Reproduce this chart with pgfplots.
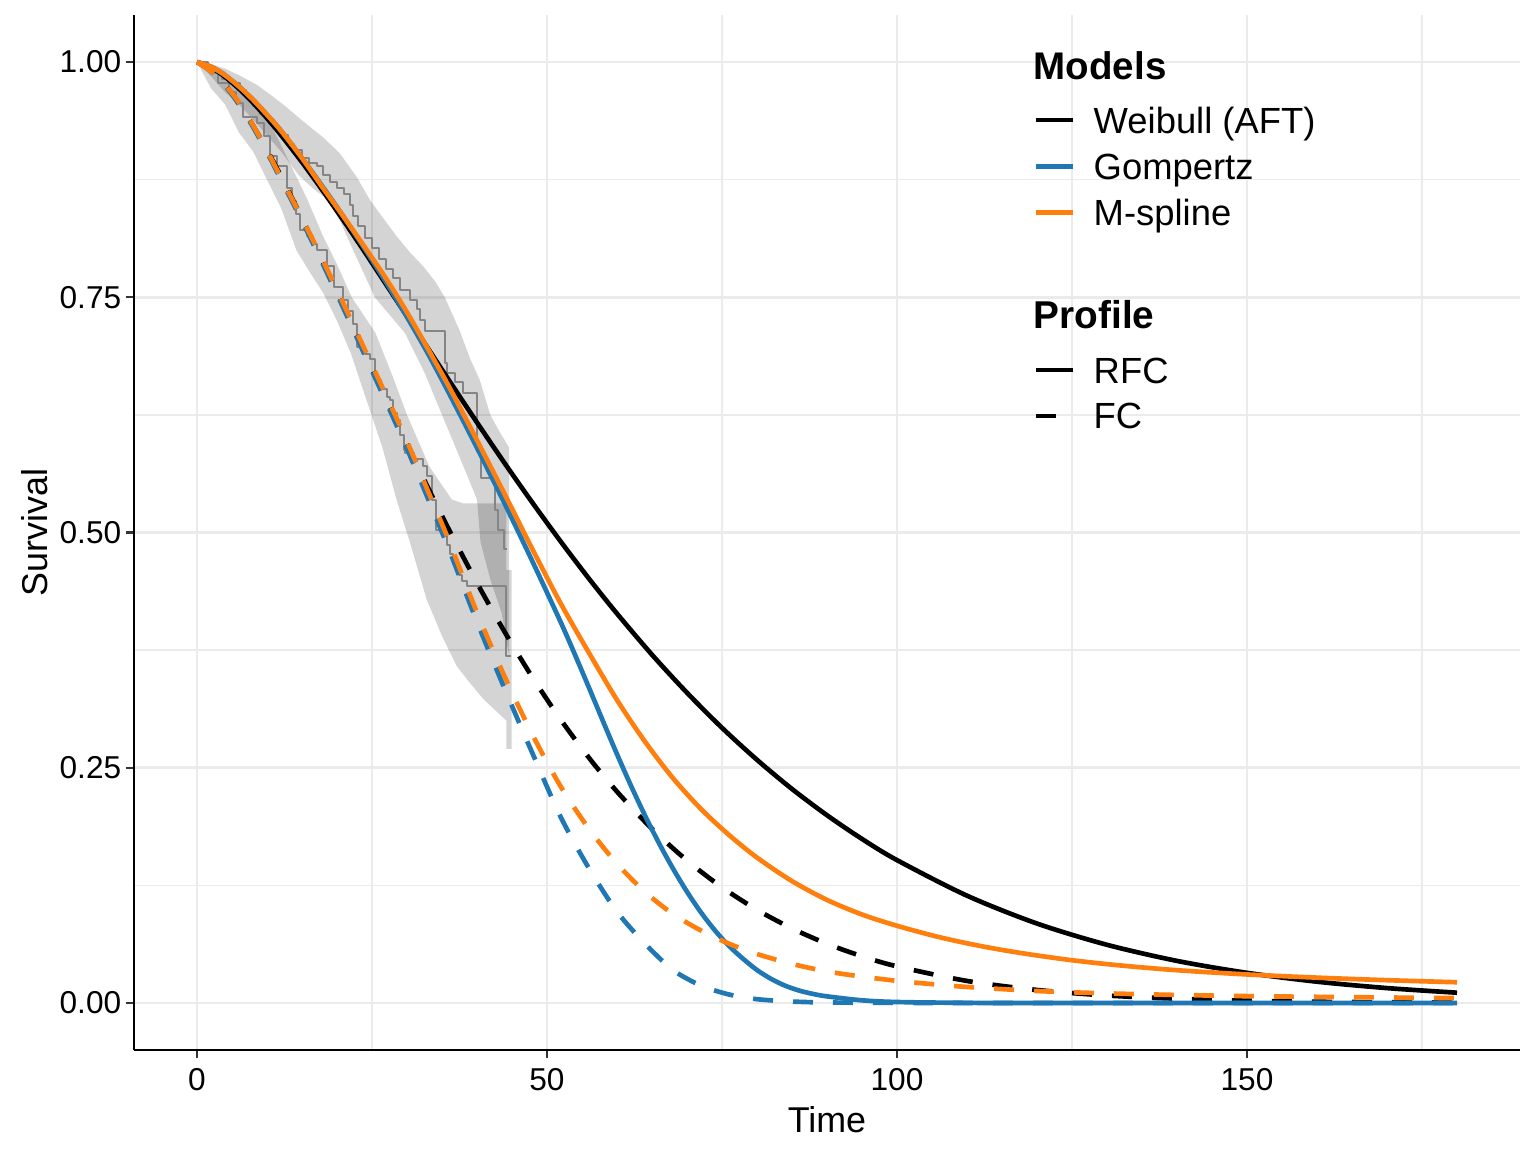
\documentclass[border=0pt]{standalone}
\usepackage{fontspec}
\setmainfont{Liberation Sans}
\usepackage{pgfplots}
\usepackage{pgfplotstable}
\pgfplotsset{compat=1.18}

\definecolor{tabblue}{HTML}{1F77B4}
\definecolor{taborange}{HTML}{FF7F0E}
\definecolor{gridgrey}{HTML}{EBEBEB}
\definecolor{kmgrey}{HTML}{858585}
\definecolor{tickgrey}{HTML}{333333}

% Weibull (AFT), RFC
\pgfplotstableread{
t S
0 1
2 0.9944
4 0.9843
6 0.9716
8 0.9568
10 0.9403
12 0.9224
15 0.8936
18 0.8629
21 0.8308
24 0.7977
27 0.7638
30 0.7298
33 0.6956
36 0.6617
40 0.6169
44 0.5731
48 0.5308
52 0.4900
56 0.4509
60 0.4138
65 0.3701
70 0.3297
75 0.2924
80 0.2584
85 0.2274
90 0.1995
95 0.1743
100 0.1518
110 0.1140
120 0.0844
130 0.0618
140 0.0447
150 0.0320
160 0.0226
170 0.0158
180 0.0109
}\wrfc
% Weibull (AFT), FC
\pgfplotstableread{
t S
0 1
2 0.9915
4 0.9759
6 0.9559
8 0.9326
10 0.9066
12 0.8786
15 0.8339
18 0.7870
21 0.7388
24 0.6900
27 0.6417
30 0.5941
33 0.5477
36 0.5030
40 0.4464
44 0.3937
48 0.3451
52 0.3007
56 0.2605
60 0.2246
65 0.1851
70 0.1514
75 0.1229
80 0.0990
85 0.0792
90 0.0629
95 0.0496
100 0.0389
110 0.0234
120 0.0138
130 0.0079
140 0.0045
150 0.0024
160 0.0013
170 0.0007
180 0.0004
}\wfc
% Gompertz, RFC
\pgfplotstableread{
t S
0 1
2 0.995
4 0.986
6 0.974
8 0.960
10 0.944
12 0.927
15 0.898
18 0.867
21 0.835
24 0.801
27 0.766
30 0.729
33 0.690
36 0.648
40 0.590
44 0.530
48 0.468
52 0.404
54 0.370
56 0.335
58 0.2994
60 0.2644
62 0.2308
64 0.1992
66 0.1698
68 0.1428
70 0.1182
72 0.0962
74 0.0770
76 0.0606
78 0.0470
80 0.0350
82 0.0256
84 0.0184
86 0.0132
88 0.0096
90 0.0070
95 0.0028
100 0.0010
110 0.0001
120 0
150 0
180 0
}\grfc
% Gompertz, FC
\pgfplotstableread{
t S
0 1
2 0.990
4 0.975
6 0.955
8 0.931
10 0.904
12 0.875
15 0.831
18 0.785
21 0.737
24 0.688
27 0.639
30 0.589
33 0.536
36 0.482
40 0.405
44 0.333
48 0.264
52 0.197
56 0.143
60 0.097
64 0.063
68 0.035
72 0.0185
76 0.009
80 0.004
85 0.0015
90 0.0005
100 0.0001
110 0
150 0
180 0
}\gfc
% M-spline, RFC
\pgfplotstableread{
t S
0 1
2 0.995
4 0.986
6 0.974
8 0.960
10 0.944
12 0.927
15 0.898
18 0.866
21 0.835
24 0.803
27 0.770
30 0.734
33 0.695
36 0.655
40 0.598
44 0.540
48 0.481
52 0.424
56 0.372
60 0.322
64 0.2777
68 0.2389
72 0.2061
76 0.1785
80 0.1545
85 0.1295
90 0.1095
95 0.0940
100 0.0820
106 0.0700
112 0.0604
118 0.0527
125 0.0454
132 0.0398
140 0.0348
150 0.0303
160 0.0269
170 0.0242
180 0.0220
}\mrfc
% M-spline, FC
\pgfplotstableread{
t S
0 1
2 0.990
4 0.976
6 0.957
8 0.933
10 0.906
12 0.877
15 0.834
18 0.789
21 0.742
24 0.694
27 0.646
30 0.597
33 0.544
36 0.491
40 0.415
44 0.346
48 0.284
52 0.2295
56 0.185
60 0.148
64 0.118
68 0.0945
72 0.077
76 0.063
80 0.052
85 0.0415
90 0.0335
95 0.028
100 0.0235
105 0.020
110 0.017
120 0.0127
130 0.0102
140 0.0085
150 0.0073
160 0.0065
170 0.0058
180 0.0052
}\mfc
% Kaplan-Meier, RFC
\pgfplotstableread{
t S
0 1.000
1.2 0.995
2.5 0.988
3.5 0.982
5 0.978
6.2 0.970
7 0.962
8 0.953
9 0.945
10 0.938
11 0.930
12 0.922
13 0.913
13.8 0.906
15 0.898
16 0.893
17.2 0.889
18 0.880
19 0.873
20 0.866
21 0.860
21.8 0.848
22.3 0.836
23 0.826
24 0.813
25 0.802
26 0.791
27 0.780
28 0.770
29 0.758
30.4 0.747
31.4 0.737
31.9 0.726
32.5 0.714
35.4 0.680
35.7 0.670
36.9 0.660
38.05 0.648
40 0.593
40.5 0.558
42.6 0.524
43 0.503
43.8 0.482
44.3 0.482
}\kmrfc
% Kaplan-Meier, FC
\pgfplotstableread{
t S
0 1
1.5 0.990
3 0.978
4.5 0.968
5.5 0.956
6.6 0.942
8.5 0.935
9.5 0.921
10.4 0.900
11.4 0.889
12.8 0.866
13.5 0.852
14.2 0.839
14.7 0.822
15.7 0.815
16.5 0.807
17.1 0.800
18.5 0.783
19.5 0.761
20.9 0.747
21.6 0.735
22.3 0.722
22.8 0.697
24 0.690
24.7 0.684
25.4 0.662
26.3 0.653
27.1 0.644
27.6 0.641
28 0.627
28.5 0.620
29 0.604
29.5 0.588
29.7 0.585
31 0.578
32.3 0.571
32.8 0.560
33.5 0.535
34.2 0.503
35.4 0.496
35.7 0.487
36.2 0.477
36.6 0.467
36.9 0.464
37.4 0.455
37.8 0.448
38.5 0.443
44.2 0.369
44.9 0.369
}\kmfc
% confidence band, RFC (upper bound, then lower bound backwards)
\pgfplotstableread{
t S
0 1
2 0.998
4 0.993
6 0.986
8.5 0.976
10 0.968
12.3 0.955
15 0.938
18 0.920
20.4 0.903
22.8 0.878
24.7 0.8535
26.5 0.835
28.5 0.815
30.5 0.797
32.3 0.783
34 0.767
35.4 0.750
37.5 0.715
39 0.685
40.4 0.662
41.9 0.625
43 0.610
44.6 0.590
44.6 0.368
43.5 0.415
41.9 0.450
40.5 0.490
40 0.535
38.05 0.5705
35 0.625
32.5 0.670
29.7 0.712
25.4 0.750
22 0.805
20.5 0.830
18.75 0.8535
16.5 0.866
14.5 0.880
12 0.905
10 0.922
8.5 0.935
6 0.955
4 0.968
2 0.985
0 1
}\bandrfc
% confidence band, FC
\pgfplotstableread{
t S
0 1
2 0.998
4 0.990
6 0.974
9 0.955
12 0.912
14.2 0.878
15.7 0.855
18 0.815
20 0.785
22.1 0.750
25.5 0.712
28 0.665
30 0.625
33.2 0.570
36.4 0.535
38 0.531
44.2 0.531
44.2 0.460
44.95 0.460
44.95 0.270
44.2 0.270
44.2 0.300
40.9 0.323
39 0.340
37.1 0.358
35 0.390
32.8 0.429
30.4 0.490
28.5 0.535
26.5 0.590
24.7 0.630
22 0.690
20 0.725
18 0.755
16 0.778
14.2 0.800
12 0.845
10 0.875
8 0.905
6 0.925
4 0.955
2 0.972
0 1
}\bandfc

\begin{document}
\begin{tikzpicture}
\useasboundingbox (-50.25bp,-38.25bp) rectangle (525.75bp,393.75bp);
\begin{axis}[
  at={(0,0)}, anchor=south west,
  scale only axis, width=519.75bp, height=388.125bp,
  xmin=-9, xmax=189, ymin=-0.05, ymax=1.05,
  enlargelimits=false,
  axis lines=left,
  axis line style={-, line width=0.8bp, black},
  xtick={0,50,100,150}, xticklabels={0,50,100,150},
  ytick={0,0.25,0.5,0.75,1}, yticklabels={0.00,0.25,0.50,0.75,1.00},
  minor xtick={25,75,125,175}, minor ytick={0.125,0.375,0.625,0.875},
  grid=both,
  major grid style={gridgrey, line width=1.05bp},
  minor grid style={gridgrey, line width=0.55bp},
  tick align=outside, major tick length=3.1bp, minor tick length=0pt,
  tick style={tickgrey, line width=0.8bp},
  /pgf/number format/assume math mode=true,
  tick label style={font=\fontsize{11.9}{14}\selectfont, text=black},
  xticklabel style={anchor=base, inner sep=0pt, yshift=-11.9bp},
  yticklabel style={anchor=east, inner sep=0pt, xshift=-1.5bp},
  xlabel={Time}, ylabel={Survival},
  label style={font=\fontsize{13.5}{16}\selectfont},
  xlabel style={at={(axis description cs:0.5,-0.0801)}, anchor=base},
  ylabel style={at={(axis description cs:-0.06205,0.5)}, anchor=base},
  every axis plot/.append style={line join=round},
]
% confidence bands
\addplot[fill=black, fill opacity=0.17, draw=none] table {\bandrfc};
\addplot[fill=black, fill opacity=0.17, draw=none] table {\bandfc};
% Kaplan-Meier steps
\addplot[const plot, kmgrey, line width=0.75bp] table {\kmrfc};
\addplot[const plot, kmgrey, line width=0.75bp] table {\kmfc};
% model curves
\addplot[black, line width=1.75bp, smooth, tension=0.5] table {\wrfc};
\addplot[black, line width=1.75bp, smooth, tension=0.5, dash pattern=on 7.5bp off 7.5bp] table {\wfc};
\addplot[tabblue, line width=1.75bp, smooth, tension=0.5] table {\grfc};
\addplot[tabblue, line width=1.75bp, smooth, tension=0.5, dash pattern=on 7.5bp off 7.5bp] table {\gfc};
\addplot[taborange, line width=1.75bp, smooth, tension=0.5] table {\mrfc};
\addplot[taborange, line width=1.75bp, smooth, tension=0.5, dash pattern=on 7.5bp off 7.5bp] table {\mfc};
\end{axis}
% legends
\node[anchor=base west, inner sep=0pt, font=\bfseries\fontsize{14.5}{17}\selectfont] at (337.2bp,364.0bp) {Models};
\draw[black, line width=1.75bp] (338.25bp,348.75bp) -- (352bp,348.75bp);
\draw[tabblue, line width=1.75bp] (338.25bp,331.25bp) -- (352bp,331.25bp);
\draw[taborange, line width=1.75bp] (338.25bp,314.0bp) -- (352bp,314.0bp);
\node[anchor=base west, inner sep=0pt, font=\fontsize{13.7}{16}\selectfont] at (359.7bp,343.75bp) {Weibull (AFT)};
\node[anchor=base west, inner sep=0pt, font=\fontsize{13.7}{16}\selectfont] at (359.7bp,326.25bp) {Gompertz};
\node[anchor=base west, inner sep=0pt, font=\fontsize{13.7}{16}\selectfont] at (359.7bp,309.0bp) {M-spline};
\node[anchor=base west, inner sep=0pt, font=\bfseries\fontsize{14.6}{17}\selectfont] at (337.2bp,270.6bp) {Profile};
\draw[black, line width=1.75bp] (338.25bp,255.0bp) -- (352bp,255.0bp);
\draw[black, line width=1.75bp, dash pattern=on 7.5bp off 7.5bp] (338.25bp,237.75bp) -- (352bp,237.75bp);
\node[anchor=base west, inner sep=0pt, font=\fontsize{13.7}{16}\selectfont] at (359.7bp,250.0bp) {RFC};
\node[anchor=base west, inner sep=0pt, font=\fontsize{13.7}{16}\selectfont] at (359.7bp,232.9bp) {FC};
\end{tikzpicture}
\end{document}
